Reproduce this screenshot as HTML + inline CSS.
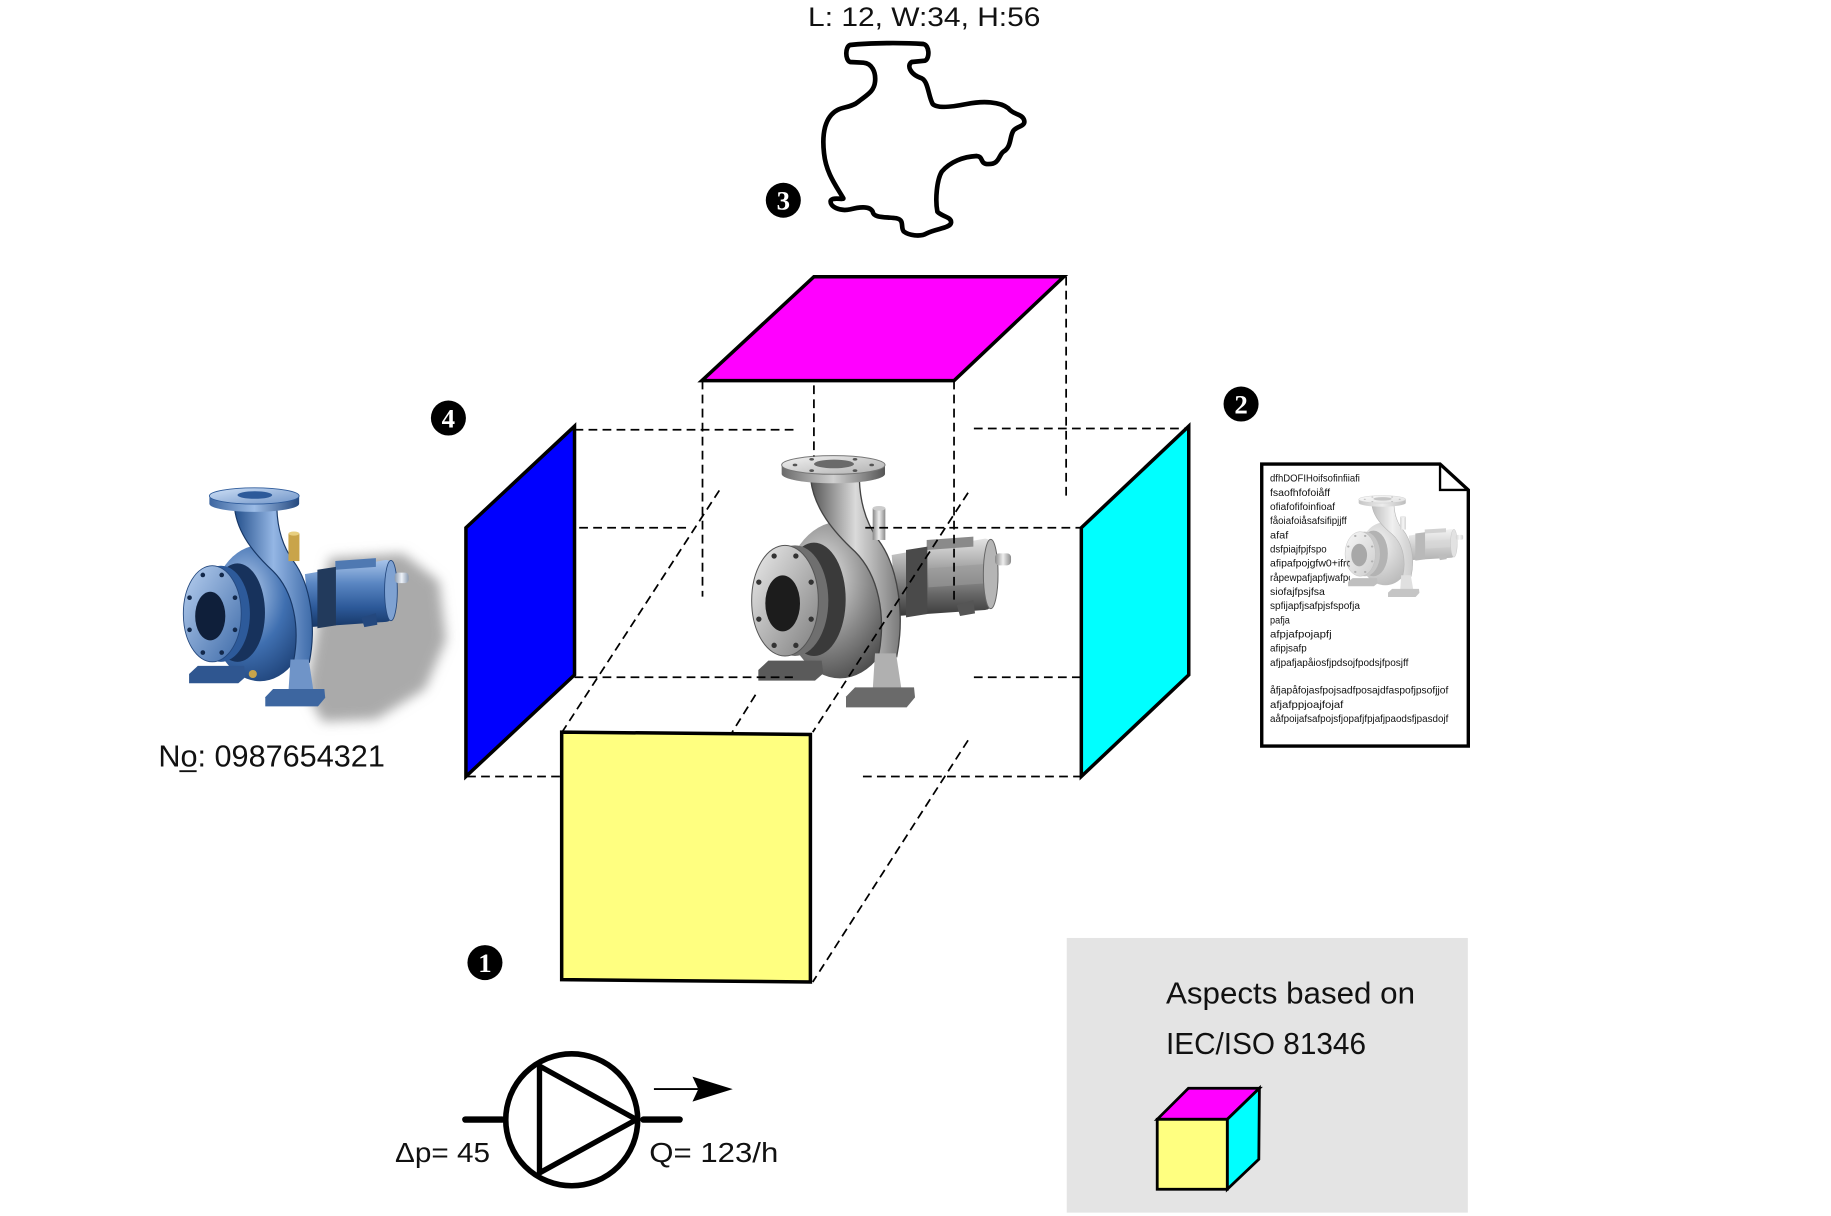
<!DOCTYPE html>
<html>
<head>
<meta charset="utf-8">
<style>
html,body{margin:0;padding:0;background:#fff;}
svg{display:block;}
text{font-family:"Liberation Sans","DejaVu Sans",sans-serif;fill:#111;}
.num{font-family:"Liberation Serif","DejaVu Serif",serif;font-weight:bold;fill:#fff;}
</style>
</head>
<body>
<svg width="1831" height="1216" viewBox="0 0 1568 1041.4" preserveAspectRatio="none" xmlns="http://www.w3.org/2000/svg" xmlns:xlink="http://www.w3.org/1999/xlink">
<defs>
  <!-- grey gradients -->
  <linearGradient id="gHousing" x1="0" y1="0" x2="0" y2="1">
    <stop offset="0" stop-color="#e2e2e2"/><stop offset="0.35" stop-color="#a8a8a8"/><stop offset="0.7" stop-color="#6a6a6a"/><stop offset="1" stop-color="#3a3a3a"/>
  </linearGradient>
  <linearGradient id="gShaft" x1="0" y1="0" x2="1" y2="0">
    <stop offset="0" stop-color="#888"/><stop offset="0.5" stop-color="#eee"/><stop offset="1" stop-color="#8a8a8a"/>
  </linearGradient>
  <radialGradient id="gCase" cx="0.35" cy="0.35" r="0.75">
    <stop offset="0" stop-color="#e6e6e6"/><stop offset="0.55" stop-color="#8a8a8a"/><stop offset="1" stop-color="#444"/>
  </radialGradient>
  <linearGradient id="gBand" x1="0" y1="0" x2="1" y2="0">
    <stop offset="0" stop-color="#555"/><stop offset="0.5" stop-color="#dadada"/><stop offset="1" stop-color="#7a7a7a"/>
  </linearGradient>
  <linearGradient id="gFlSide" x1="0" y1="0" x2="1" y2="0">
    <stop offset="0" stop-color="#6a6a6a"/><stop offset="0.5" stop-color="#d0d0d0"/><stop offset="1" stop-color="#555"/>
  </linearGradient>
  <linearGradient id="gFlTop" x1="0" y1="0" x2="1" y2="1">
    <stop offset="0" stop-color="#f2f2f2"/><stop offset="1" stop-color="#b0b0b0"/>
  </linearGradient>
  <linearGradient id="gFront" x1="0" y1="0" x2="1" y2="1">
    <stop offset="0" stop-color="#ececec"/><stop offset="1" stop-color="#7e7e7e"/>
  </linearGradient>

  <!-- blue gradients -->
  <linearGradient id="bHousing" x1="0" y1="0" x2="0" y2="1">
    <stop offset="0" stop-color="#a8c4ea"/><stop offset="0.35" stop-color="#5a86c2"/><stop offset="0.7" stop-color="#2d5a9a"/><stop offset="1" stop-color="#173766"/>
  </linearGradient>
  <linearGradient id="bShaft" x1="0" y1="0" x2="1" y2="0">
    <stop offset="0" stop-color="#8a9ab0"/><stop offset="0.5" stop-color="#eef2f8"/><stop offset="1" stop-color="#8a9ab0"/>
  </linearGradient>
  <radialGradient id="bCase" cx="0.35" cy="0.35" r="0.75">
    <stop offset="0" stop-color="#b9d0f0"/><stop offset="0.55" stop-color="#3f6fb0"/><stop offset="1" stop-color="#1c3f74"/>
  </radialGradient>
  <linearGradient id="bBand" x1="0" y1="0" x2="1" y2="0">
    <stop offset="0" stop-color="#24508c"/><stop offset="0.5" stop-color="#94b6e4"/><stop offset="1" stop-color="#3d6aa8"/>
  </linearGradient>
  <linearGradient id="bFlSide" x1="0" y1="0" x2="1" y2="0">
    <stop offset="0" stop-color="#3d66a0"/><stop offset="0.5" stop-color="#9cbce6"/><stop offset="1" stop-color="#24487e"/>
  </linearGradient>
  <linearGradient id="bFlTop" x1="0" y1="0" x2="1" y2="1">
    <stop offset="0" stop-color="#cfe0f6"/><stop offset="1" stop-color="#6f94c8"/>
  </linearGradient>
  <linearGradient id="bFront" x1="0" y1="0" x2="1" y2="1">
    <stop offset="0" stop-color="#b8d0f0"/><stop offset="1" stop-color="#3d6aa8"/>
  </linearGradient>

  <filter id="blur" x="-30%" y="-30%" width="160%" height="160%">
    <feGaussianBlur stdDeviation="5"/>
  </filter>

  <!-- grey pump in local coordinates -->
  <g id="pumpGrey">
    <path d="M455,345 L735,296 Q775,300 775,402 Q775,505 735,510 L470,528 Z" fill="url(#gHousing)"/>
    <path d="M560,300 L700,290 L700,320 L560,330 Z" fill="#8a8a8a"/>
    <path d="M565,385 L735,372 L735,430 L565,442 Z" fill="#9a9a9a" opacity="0.6"/>
    <ellipse cx="752" cy="402" rx="22" ry="104" fill="#b5b5b5" stroke="#666" stroke-width="3"/>
    <rect x="765" y="340" width="48" height="36" rx="12" fill="url(#gShaft)"/>
    <path d="M650,495 L700,480 L705,520 L660,528 Z" fill="#555"/>
    <path d="M498,330 L562,320 L562,522 L498,532 Z" fill="#4a4a4a"/>
    <ellipse cx="300" cy="480" rx="170" ry="235" fill="url(#gCase)"/>
    <path d="M212,118 C222,205 280,275 345,335 C415,405 440,525 415,650 L470,650 C495,525 475,380 415,300 C375,245 360,180 358,118 Z" fill="url(#gBand)" stroke="#444" stroke-width="4"/>
    <rect x="398" y="205" width="38" height="95" fill="url(#gShaft)"/>
    <ellipse cx="417" cy="205" rx="19" ry="7" fill="#ccc"/>
    <path d="M125,75 L125,102 A155,28 0 0 0 435,102 L435,75 Z" fill="url(#gFlSide)"/>
    <ellipse cx="280" cy="75" rx="155" ry="28" fill="url(#gFlTop)" stroke="#777" stroke-width="3"/>
    <ellipse cx="282" cy="72" rx="60" ry="13" fill="#6a6a6a"/>
    <g fill="#555">
      <ellipse cx="165" cy="75" rx="7" ry="4"/><ellipse cx="215" cy="58" rx="7" ry="4"/><ellipse cx="345" cy="58" rx="7" ry="4"/>
      <ellipse cx="395" cy="75" rx="7" ry="4"/><ellipse cx="215" cy="92" rx="7" ry="4"/><ellipse cx="345" cy="92" rx="7" ry="4"/>
    </g>
    <ellipse cx="222" cy="478" rx="95" ry="170" fill="#3a3a3a"/>
    <ellipse cx="165" cy="482" rx="100" ry="166" fill="#6f6f6f"/>
    <ellipse cx="135" cy="482" rx="100" ry="166" fill="url(#gFront)" stroke="#555" stroke-width="3"/>
    <g fill="#333">
      <circle cx="213.5" cy="537.5" r="8"/><circle cx="167.6" cy="616" r="8"/><circle cx="102.4" cy="616" r="8"/><circle cx="56.5" cy="537.5" r="8"/>
      <circle cx="56.5" cy="426.5" r="8"/><circle cx="102.4" cy="348" r="8"/><circle cx="167.6" cy="348" r="8"/><circle cx="213.5" cy="426.5" r="8"/>
    </g>
    <ellipse cx="128" cy="490" rx="52" ry="84" fill="#1c1c1c"/>
    <path d="M55,690 L85,662 L245,662 L250,700 L225,722 L55,722 Z" fill="#5a5a5a"/>
    <path d="M405,640 L468,640 L485,752 L398,752 Z" fill="#b0b0b0"/>
    <path d="M318,770 L345,742 L522,742 L525,772 L500,802 L318,802 Z" fill="#6a6a6a"/>
  </g>

  <!-- blue pump -->
  <g id="pumpBlue">
    <path d="M455,345 L735,296 Q775,300 775,402 Q775,505 735,510 L470,528 Z" fill="url(#bHousing)"/>
    <path d="M560,300 L700,290 L700,320 L560,330 Z" fill="#4f79b2"/>
    <ellipse cx="752" cy="402" rx="22" ry="104" fill="#7fa2d2" stroke="#24487e" stroke-width="3"/>
    <rect x="765" y="340" width="48" height="36" rx="12" fill="url(#bShaft)"/>
    <path d="M650,495 L700,480 L705,520 L660,528 Z" fill="#24487e"/>
    <path d="M498,330 L562,320 L562,522 L498,532 Z" fill="#223a5c"/>
    <ellipse cx="300" cy="480" rx="170" ry="235" fill="url(#bCase)"/>
    <path d="M212,118 C222,205 280,275 345,335 C415,405 440,525 415,650 L470,650 C495,525 475,380 415,300 C375,245 360,180 358,118 Z" fill="url(#bBand)" stroke="#173766" stroke-width="4"/>
    <rect x="398" y="205" width="38" height="95" fill="#c9a44a"/>
    <ellipse cx="417" cy="205" rx="19" ry="7" fill="#e8cf80"/>
    <path d="M125,75 L125,102 A155,28 0 0 0 435,102 L435,75 Z" fill="url(#bFlSide)"/>
    <ellipse cx="280" cy="75" rx="155" ry="28" fill="url(#bFlTop)" stroke="#2d5a9a" stroke-width="3"/>
    <ellipse cx="282" cy="72" rx="60" ry="13" fill="#2d5a9a"/>
    <ellipse cx="222" cy="478" rx="95" ry="170" fill="#17325c"/>
    <ellipse cx="165" cy="482" rx="100" ry="166" fill="#2d5a9a"/>
    <ellipse cx="135" cy="482" rx="100" ry="166" fill="url(#bFront)" stroke="#24487e" stroke-width="3"/>
    <g fill="#12284a">
      <circle cx="213.5" cy="537.5" r="8"/><circle cx="167.6" cy="616" r="8"/><circle cx="102.4" cy="616" r="8"/><circle cx="56.5" cy="537.5" r="8"/>
      <circle cx="56.5" cy="426.5" r="8"/><circle cx="102.4" cy="348" r="8"/><circle cx="167.6" cy="348" r="8"/><circle cx="213.5" cy="426.5" r="8"/>
    </g>
    <ellipse cx="128" cy="490" rx="52" ry="84" fill="#0f1f3a"/>
    <path d="M55,690 L85,662 L245,662 L250,700 L225,722 L55,722 Z" fill="#2f5690"/>
    <circle cx="275" cy="690" r="14" fill="#c9a44a"/>
    <path d="M405,640 L468,640 L485,752 L398,752 Z" fill="#6f94c8"/>
    <path d="M318,770 L345,742 L522,742 L525,772 L500,802 L318,802 Z" fill="#3d66a0"/>
  </g>
</defs>

<rect x="0" y="0" width="1568" height="1041.4" fill="#fff"/>

<!-- top label + outline -->
<text x="692" y="22.3" font-size="22.6" textLength="199" lengthAdjust="spacingAndGlyphs">L: 12, W:34, H:56</text>
<path transform="translate(642.3,0) scale(0.2855)" fill="none" stroke="#000" stroke-width="14" stroke-linejoin="round"
 d="M300,135 C360,128 460,128 520,132 C538,135 540,175 525,182 L485,186 C470,195 478,222 515,235 C535,245 535,290 548,312 C560,325 600,322 650,312 C700,302 750,305 775,325 C790,345 815,340 822,360 C828,380 800,378 790,392 C778,410 785,440 760,455 C745,465 750,495 710,492 C690,490 700,470 680,468 C640,470 600,485 575,515 C560,540 555,600 562,635 C575,650 605,650 603,668 C600,685 560,685 530,700 C510,712 475,705 462,695 C450,685 465,660 440,655 C410,650 370,655 368,635 C360,618 330,620 300,628 C270,635 238,620 242,602 C248,590 280,600 280,595 C260,560 228,520 222,460 C215,400 225,350 262,330 C280,320 305,322 325,305 C350,285 372,275 375,245 C378,215 365,190 340,188 L300,186 C285,180 285,140 300,135 Z"/>

<!-- center pump -->
<use xlink:href="#pumpGrey" href="#pumpGrey" transform="translate(633.7,376.8) scale(0.2855)"/>

<!-- dashed construction lines -->
<g stroke="#000" stroke-width="1.5" stroke-dasharray="7.5 4.5" fill="none">
  <line x1="492" y1="368" x2="681" y2="368"/>
  <line x1="834" y1="367" x2="1018" y2="367"/>
  <line x1="400" y1="452" x2="591" y2="452"/>
  <line x1="741" y1="452" x2="926" y2="452"/>
  <line x1="492" y1="580" x2="679" y2="580"/>
  <line x1="834" y1="580" x2="926" y2="580"/>
  <line x1="400" y1="665" x2="480" y2="665"/>
  <line x1="739" y1="665" x2="926" y2="665"/>
  <line x1="601.6" y1="326" x2="601.6" y2="511"/>
  <line x1="697" y1="330" x2="697" y2="391"/>
  <line x1="817" y1="326" x2="817" y2="514"/>
  <line x1="913" y1="237" x2="913" y2="425"/>
  <line x1="616" y1="420" x2="482" y2="626"/>
  <line x1="829" y1="422" x2="696" y2="627"/>
  <line x1="647" y1="595" x2="627" y2="627"/>
  <line x1="829" y1="634" x2="696" y2="841"/>
</g>

<!-- aspect faces -->
<g stroke="#000" stroke-width="3" stroke-linejoin="miter">
  <polygon points="697,237 911,237 817,326 601,326" fill="#ff00ff"/>
  <polygon points="399,452 492,365 492,578 399,665" fill="#0000ff"/>
  <polygon points="926,452 1018,365 1018,578 926,665" fill="#00ffff"/>
  <polygon points="481,627 694,629 694,841 481,839" fill="#ffff80"/>
</g>

<!-- circled numbers -->
<g>
  <circle cx="670.8" cy="171.5" r="15" fill="#000"/><text class="num" x="670.8" y="179.5" font-size="23" text-anchor="middle">3</text>
  <circle cx="384" cy="358" r="15" fill="#000"/><text class="num" x="384" y="366" font-size="23" text-anchor="middle">4</text>
  <circle cx="1062.8" cy="346" r="15" fill="#000"/><text class="num" x="1062.8" y="354" font-size="23" text-anchor="middle">2</text>
  <circle cx="415.3" cy="824.4" r="15" fill="#000"/><text class="num" x="415.3" y="832.4" font-size="23" text-anchor="middle">1</text>
</g>

<!-- blue pump with shadow -->
<path d="M282,478 L345,474 L376,498 L382,548 L364,590 L322,616 L276,618 L262,592 Z" fill="#aaa" filter="url(#blur)"/>
<use xlink:href="#pumpBlue" href="#pumpBlue" transform="translate(148.3,406.1) scale(0.248)"/>
<text x="135.6" y="656.6" font-size="26.5" textLength="194" lengthAdjust="spacingAndGlyphs">No: 0987654321</text>
<line x1="153.6" y1="660.5" x2="168.4" y2="660.5" stroke="#111" stroke-width="1.6"/>

<!-- document -->
<path d="M1080.5,397.4 L1233.2,397.4 L1257.4,419.6 L1257.4,638.9 L1080.5,638.9 Z" fill="#fff" stroke="#000" stroke-width="2.9" stroke-linejoin="miter"/>
<path d="M1233.2,397.4 L1233.2,419.6 L1257.4,419.6" fill="none" stroke="#000" stroke-width="2"/>
<g font-size="8.5">
  <text x="1087.6" y="412.5" textLength="77" lengthAdjust="spacingAndGlyphs">dfhDOFIHoifsofinfiiafi</text>
  <text x="1087.6" y="424.6" textLength="51.4" lengthAdjust="spacingAndGlyphs">fsaofhfofoiåff</text>
  <text x="1087.6" y="436.8" textLength="55.7" lengthAdjust="spacingAndGlyphs">ofiafofifoinfioaf</text>
  <text x="1087.6" y="448.9" textLength="65.7" lengthAdjust="spacingAndGlyphs">fåoiafoiåsafsifipjjff</text>
  <text x="1087.6" y="461" textLength="15.7" lengthAdjust="spacingAndGlyphs">afaf</text>
  <text x="1087.6" y="473.2" textLength="48.5" lengthAdjust="spacingAndGlyphs">dsfpiajfpjfspo</text>
  <text x="1087.6" y="485.3" textLength="80" lengthAdjust="spacingAndGlyphs">afipafpojgfw0+ifrcfaf</text>
  <text x="1087.6" y="497.4" textLength="80" lengthAdjust="spacingAndGlyphs">råpewpafjapfjwafpojsf</text>
  <text x="1087.6" y="509.5" textLength="47" lengthAdjust="spacingAndGlyphs">siofajfpsjfsa</text>
  <text x="1087.6" y="521.7" textLength="77" lengthAdjust="spacingAndGlyphs">spfijapfjsafpjsfspofja</text>
  <text x="1087.6" y="533.8" textLength="17" lengthAdjust="spacingAndGlyphs">pafja</text>
  <text x="1087.6" y="545.9" textLength="52.8" lengthAdjust="spacingAndGlyphs">afpjafpojapfj</text>
  <text x="1087.6" y="558" textLength="31.4" lengthAdjust="spacingAndGlyphs">afipjsafp</text>
  <text x="1087.6" y="570.2" textLength="118.5" lengthAdjust="spacingAndGlyphs">afjpafjapåiosfjpdsojfpodsjfposjff</text>
  <text x="1087.6" y="594" textLength="152.7" lengthAdjust="spacingAndGlyphs">åfjapåfojasfpojsadfposajdfaspofjpsofjjof</text>
  <text x="1087.6" y="606.2" textLength="62.8" lengthAdjust="spacingAndGlyphs">afjafppjoajfojaf</text>
  <text x="1087.6" y="618.4" textLength="152.7" lengthAdjust="spacingAndGlyphs">aåfpoijafsafpojsfjopafjfpjafjpaodsfjpasdojf</text>
</g>
<rect x="1156" y="424" width="96" height="88" fill="#fff"/>
<use xlink:href="#pumpGrey" href="#pumpGrey" transform="translate(1147.3,419) scale(0.13,0.115)" opacity="0.38"/>

<!-- pump symbol -->
<g fill="none" stroke="#000">
  <circle cx="489.6" cy="959" r="56.5" stroke-width="4.8"/>
  <polygon points="462,913 462,1004.5 545,958.8" stroke-width="4.6"/>
  <line x1="398.5" y1="958.8" x2="430" y2="958.8" stroke-width="5.5" stroke-linecap="round"/>
  <line x1="551" y1="958.8" x2="582" y2="958.8" stroke-width="5.5" stroke-linecap="round"/>
  <line x1="560" y1="932.7" x2="598" y2="932.7" stroke-width="1.6"/>
</g>
<polygon points="593,922 627.5,932.7 593,943.5 598,932.7" fill="#000"/>
<text x="338.3" y="995" font-size="24" textLength="81.3" lengthAdjust="spacingAndGlyphs">Δp= 45</text>
<text x="556" y="995" font-size="24" textLength="110.5" lengthAdjust="spacingAndGlyphs">Q= 123/h</text>

<!-- legend box -->
<rect x="913.5" y="803.3" width="343.5" height="235.2" fill="#e4e4e4"/>
<text x="998.5" y="859.2" font-size="25.8" textLength="213.3" lengthAdjust="spacingAndGlyphs">Aspects based on</text>
<text x="998.5" y="902.6" font-size="25.8" textLength="171.3" lengthAdjust="spacingAndGlyphs">IEC/ISO 81346</text>
<g stroke="#000" stroke-width="2.4" stroke-linejoin="miter">
  <polygon points="991,958.6 1017.7,932 1078.5,932 1051,958.6" fill="#ff00ff"/>
  <polygon points="1051,958.6 1078.5,932 1078,992.8 1051,1018.5" fill="#00ffff"/>
  <rect x="991" y="958.6" width="60" height="59.9" fill="#ffff80"/>
</g>
</svg>
</body>
</html>
